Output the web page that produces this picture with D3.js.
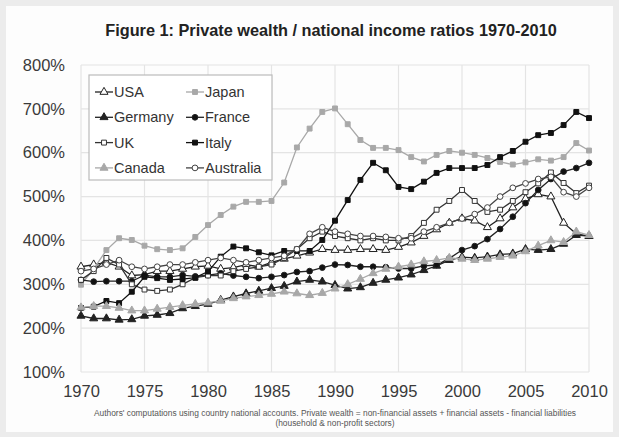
<!DOCTYPE html>
<html><head><meta charset="utf-8">
<script src="https://cdn.jsdelivr.net/npm/d3@7"></script>
<style>body{margin:0;background:#ececec;} svg{display:block;font-family:"Liberation Sans",Arial,sans-serif;}</style>
</head><body><svg id="c" width="619" height="437"></svg>
<script>
const title = "Figure 1: Private wealth / national income ratios 1970-2010";
const footnote1 = "Authors' computations using country national accounts. Private wealth = non-financial assets + financial assets - financial liabilities";
const footnote2 = "(household & non-profit sectors)";
const years = d3.range(1970, 2011);
const xTickLabels = [1970, 1975, 1980, 1985, 1990, 1995, 2000, 2005, 2010];
const yTickLabels = [100, 200, 300, 400, 500, 600, 700, 800];
const usa = [340,345,350,340,320,322,330,330,335,340,342,335,338,345,340,350,358,365,372,380,378,378,380,380,378,385,395,410,425,440,450,445,430,450,475,495,505,500,440,415,410];
const japan = [299,335,378,405,401,388,380,378,382,408,435,458,477,488,488,490,532,612,655,693,701,665,629,611,611,606,590,580,595,604,600,595,588,579,573,578,585,582,590,622,605];
const germany = [228,222,222,219,220,228,230,234,245,250,255,264,272,279,285,291,296,306,310,306,298,290,293,303,310,315,322,332,342,355,362,360,363,368,370,380,378,380,392,412,410];
const france = [310,306,307,307,307,321,317,317,321,318,321,325,320,317,314,317,321,328,330,338,345,344,340,340,339,336,336,342,344,359,378,387,403,426,454,485,515,540,557,565,577];
const uk = [310,330,360,345,300,288,285,288,300,315,320,320,330,335,340,345,360,380,405,420,410,405,400,405,400,400,410,440,470,490,515,490,465,470,490,510,530,555,531,508,525];
const italy = [246,249,262,257,283,317,314,310,312,315,329,363,386,382,373,366,376,376,376,401,445,492,538,577,560,522,517,534,554,565,565,565,572,590,604,625,640,645,663,693,679];
const canada = [247,250,250,246,240,240,244,248,252,255,258,262,268,272,275,278,283,279,275,280,290,300,312,325,335,340,345,352,355,360,358,355,358,362,365,375,388,400,396,420,412];
const australia = [330,335,345,355,340,335,340,345,345,350,355,360,355,350,355,360,365,380,415,430,420,415,410,410,408,405,405,420,430,440,450,460,475,500,520,530,540,545,510,500,520];

const series = [
  {name:"USA", values:usa, color:"#222", shape:"triangle", fill:"#fff"},
  {name:"Japan", values:japan, color:"#a8a8a8", shape:"square", fill:"#a8a8a8"},
  {name:"Germany", values:germany, color:"#222", shape:"triangle", fill:"#222"},
  {name:"France", values:france, color:"#222", shape:"circle", fill:"#111"},
  {name:"UK", values:uk, color:"#333", shape:"square", fill:"#fff"},
  {name:"Italy", values:italy, color:"#111", shape:"square", fill:"#111"},
  {name:"Canada", values:canada, color:"#a8a8a8", shape:"triangle", fill:"#a8a8a8"},
  {name:"Australia", values:australia, color:"#444", shape:"circle", fill:"#fff"}
];

const svg = d3.select("#c");
svg.append("rect").attr("x",6).attr("y",6).attr("width",607).attr("height",426).attr("fill","#fdfdfd");

const x = d3.scaleLinear().domain([1970, 2010]).range([81, 589]);
const y = d3.scaleLinear().domain([100, 800]).range([372, 65]);

svg.append("text").attr("x", 331).attr("y", 36).attr("text-anchor","middle")
  .attr("font-size", 16.3).attr("font-weight","bold").attr("fill","#222").text(title);

// grid
const g = svg.append("g");
g.selectAll(".hg").data(yTickLabels).join("line")
  .attr("x1", x(1970)).attr("x2", x(2010)).attr("y1", d=>y(d)).attr("y2", d=>y(d))
  .attr("stroke","#e4e4e4").attr("stroke-width",1.2);
g.selectAll(".vg").data(xTickLabels).join("line")
  .attr("y1", y(800)).attr("y2", y(100)).attr("x1", d=>x(d)).attr("x2", d=>x(d))
  .attr("stroke","#e4e4e4").attr("stroke-width",1.2);

// axes
const yAxis = d3.axisLeft(y).tickValues(yTickLabels).tickFormat(d=>d+"%").tickSize(0).tickPadding(16);
const ya = svg.append("g").attr("transform",`translate(${x(1970)},0)`).call(yAxis);
ya.select(".domain").remove();
ya.selectAll("text").attr("font-size",16.5).attr("fill","#3a3a3a").attr("font-family","Liberation Sans, Arial, sans-serif");

const xAxis = d3.axisBottom(x).tickValues(xTickLabels).tickFormat(d3.format("d")).tickSize(0).tickPadding(13);
const xa = svg.append("g").attr("transform",`translate(0,${y(100)})`).call(xAxis);
xa.select(".domain").remove();
xa.selectAll("text").attr("font-size",16.5).attr("fill","#3a3a3a").attr("font-family","Liberation Sans, Arial, sans-serif");

// lines
const line = d3.line().x((d,i)=>x(years[i])).y(d=>y(d));
const symbolType = {triangle:d3.symbolTriangle, square:d3.symbolSquare, circle:d3.symbolCircle};
const sym = s => d3.symbol().type(symbolType[s]).size(s==="circle"?26:(s==="square"?24:28));

series.forEach(s=>{
  svg.append("path").datum(s.values).attr("d", line).attr("fill","none")
    .attr("stroke", s.color).attr("stroke-width",1.3);
  svg.append("g").selectAll("path").data(s.values).join("path")
    .attr("transform",(d,i)=>`translate(${x(years[i])},${y(d)})`)
    .attr("d", sym(s.shape)()).attr("fill", s.fill).attr("stroke", s.color).attr("stroke-width",1);
});

// legend
const lg = svg.append("g");
lg.append("rect").attr("x",89).attr("y",75).attr("width",183).attr("height",105)
  .attr("fill","#fff").attr("stroke","#bbb").attr("stroke-width",1.2);
series.forEach((s,i)=>{
  const col = i%2, row = Math.floor(i/2);
  const lx = col===0 ? 95 : 186, ly = 92 + row*25.3;
  lg.append("line").attr("x1",lx).attr("x2",lx+18).attr("y1",ly).attr("y2",ly).attr("stroke",s.color).attr("stroke-width",1.3);
  lg.append("path").attr("transform",`translate(${lx+9},${ly})`).attr("d",sym(s.shape)()).attr("fill",s.fill).attr("stroke",s.color);
  lg.append("text").attr("x",lx+19).attr("y",ly+5).attr("font-size",14.5).attr("fill","#333").text(s.name);
});

svg.append("text").attr("x",335).attr("y",416).attr("text-anchor","middle").attr("font-size",8.4).attr("fill","#555").text(footnote1);
svg.append("text").attr("x",335).attr("y",426).attr("text-anchor","middle").attr("font-size",8.4).attr("fill","#555").text(footnote2);
</script></body></html>
